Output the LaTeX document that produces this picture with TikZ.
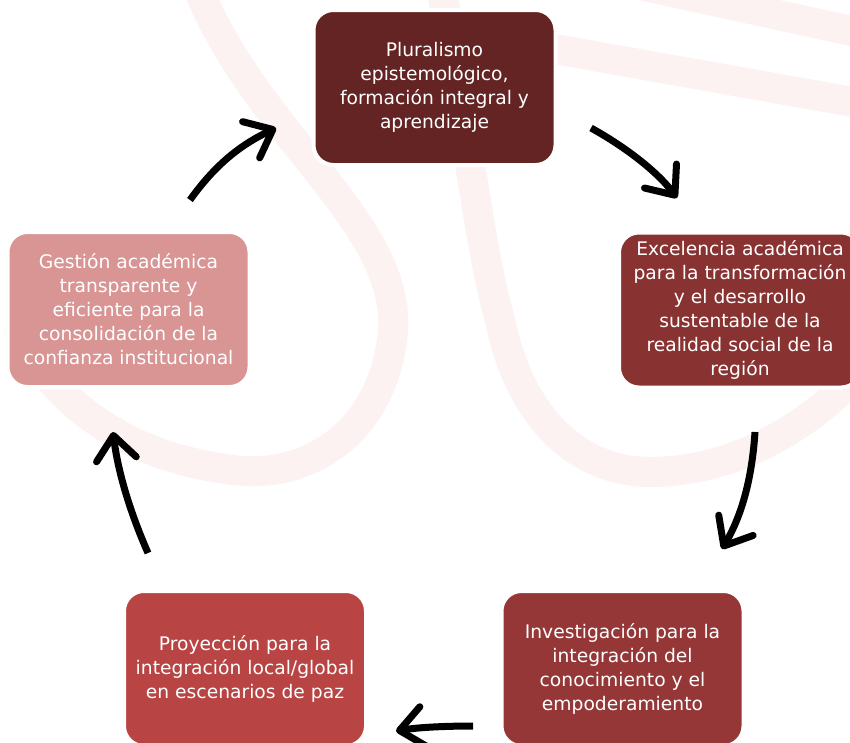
\documentclass[tikz,border=0pt]{standalone}
\usepackage{fontspec}
\setmainfont{DejaVu Sans}
\usetikzlibrary{arrows.meta}
\definecolor{cTop}{RGB}{100,36,36}
\definecolor{cRight}{RGB}{137,50,50}
\definecolor{cBR}{RGB}{150,55,55}
\definecolor{cBL}{RGB}{185,68,68}
\definecolor{cLeft}{RGB}{217,148,148}
\definecolor{wmark}{RGB}{252,242,242}
\begin{document}
\begin{tikzpicture}[x=1pt,y=-1pt,
  box/.style={rectangle, rounded corners=20pt, minimum width=242pt, minimum height=155pt,
    draw=white, line width=4pt, text=white, align=center,
    font=\fontsize{18.7}{24}\selectfont, inner sep=0pt},
  cyc/.style={line width=7pt, -{Straight Barb[length=24pt,width=40pt,round]}},
  wm/.style={line width=30pt, draw=wmark, line cap=round}]
\useasboundingbox (0,0) rectangle (850,742);
\clip (0,0) rectangle (850,742);
\fill[white] (0,0) rectangle (850,742);
% watermark
\draw[wm] (195,-20) .. controls (250,130) and (400,220) .. (393,330)
  .. controls (385,430) and (310,480) .. (233,470)
  .. controls (150,460) and (60,420) .. (20,330);
\draw[wm] (440,-20) .. controls (470,150) and (480,250) .. (500,320)
  .. controls (520,420) and (580,472) .. (650,472)
  .. controls (740,472) and (820,420) .. (870,360);
\draw[wm] (560,50) -- (870,105);
\draw[wm] (640,-15) -- (870,35);
% boxes
\node[box, fill=cTop] (plur) at (434.5,87.5) {Pluralismo\\epistemológico,\\formación integral y\\aprendizaje};
\node[box, fill=cRight] (exc) at (740,310) {Excelencia académica\\para la transformación\\y el desarrollo\\sustentable de la\\realidad social de la\\región};
\node[box, fill=cBR] (inv) at (622.5,668.5) {Investigación para la\\integración del\\conocimiento y el\\empoderamiento};
\node[box, fill=cBL] (proy) at (245,668.5) {Proyección para la\\integración local/global\\en escenarios de paz};
\node[box, fill=cLeft] (gest) at (128.5,309.5) {Gestión académica\\transparente y\\eficiente para la\\consolidación de la\\confianza institucional};
% arrow ends
\coordinate (a1s) at (190,200); \coordinate (a1e) at (276,128);
\coordinate (a2s) at (591,128); \coordinate (a2e) at (677,198);
\coordinate (a3s) at (755,432); \coordinate (a3e) at (722,549);
\coordinate (a4s) at (473,726); \coordinate (a4e) at (396,731);
\coordinate (a5s) at (148,553); \coordinate (a5e) at (113,432);
\draw[cyc] (a1s) .. controls (215,165) and (240,145) .. (a1e);
\draw[cyc] (a2s) .. controls (622,145) and (656,170) .. (a2e);
\draw[cyc] (a3s) .. controls (752,478) and (742,515) .. (a3e);
\draw[cyc] (a4s) .. controls (450,726) and (420,727) .. (a4e);
\draw[cyc] (a5s) .. controls (130,512) and (118,472) .. (a5e);
\end{tikzpicture}
\end{document}
